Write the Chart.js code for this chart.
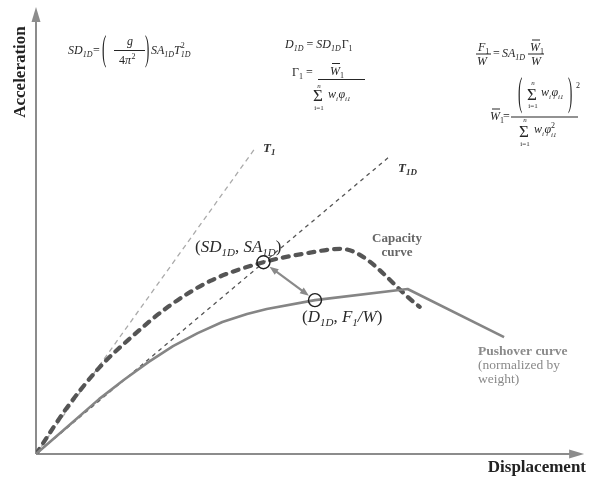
<!DOCTYPE html>
<html><head><meta charset="utf-8">
<script src="https://cdn.jsdelivr.net/npm/chart.js@4"></script>
<style>html,body{margin:0;padding:0;background:#fff;} #wrap{width:592px;height:479px;}</style>
</head><body><div id="wrap"><canvas id="c" width="592" height="479"></canvas></div>
<script>
// ---- data (schematic units: displacement 0-100, acceleration 0-100) ----
const t1Disp = [0, 40.0];
const t1Acc = [0, 68.6];
const t1dDisp = [0, 64.6];
const t1dAcc = [0, 66.8];
const capacityDisp = [0, 5.6, 11.5, 17.4, 24.1, 31.8, 41.5, 49.8, 55.6, 70.0];
const capacityAcc  = [0, 10.3, 19.3, 26.2, 33.0, 38.8, 43.0, 45.1, 46.0, 33.0];
const pushoverDisp = [0, 6.1, 11.5, 16.0, 20.5, 25.0, 29.5, 34.0, 38.5, 42.1, 50.9, 67.8, 85.4];
const pushoverAcc  = [0, 6.5, 12.3, 16.6, 20.6, 24.2, 27.1, 29.6, 31.4, 32.5, 34.5, 37.0, 26.2];
const pointDisp = [41.5, 50.9];   // (SD1D, SA1D) and (D1D, F1/W)
const pointAcc  = [43.0, 34.5];
const axisMax = 100;

const zip = (xs, ys) => xs.map((x, i) => ({x: x, y: ys[i]}));
const SERIF = '"Liberation Serif", "Times New Roman", serif';
const I = s => `italic ${s}px ${SERIF}`;
const N = s => `${s}px ${SERIF}`;
const B = s => `bold ${s}px ${SERIF}`;
const BI = s => `italic bold ${s}px ${SERIF}`;

function tx(ctx, s, x, y, font, align) {
  ctx.font = font; ctx.textAlign = align || 'left'; ctx.fillText(s, x, y);
  return (align === 'center') ? x + ctx.measureText(s).width / 2 : x + ctx.measureText(s).width;
}
// tall thin delimiter drawn as stretched text glyph
function delim(ctx, ch, x, yTop, yBot, size) {
  const sy = (yBot - yTop) / (0.87 * size);
  ctx.save();
  ctx.translate(x, yTop + 0.69 * size * sy);
  ctx.scale(1, sy);
  ctx.font = N(size); ctx.textAlign = 'left';
  ctx.fillText(ch, 0, 0);
  ctx.restore();
}
function hline(ctx, x1, x2, y, w) {
  ctx.beginPath(); ctx.lineWidth = w || 1; ctx.moveTo(x1, y); ctx.lineTo(x2, y); ctx.stroke();
}
function arrowHead(ctx, x, y, ang, len, hw) {
  ctx.beginPath();
  ctx.moveTo(x, y);
  ctx.lineTo(x - len * Math.cos(ang) + hw * Math.sin(ang), y - len * Math.sin(ang) - hw * Math.cos(ang));
  ctx.lineTo(x - len * Math.cos(ang) - hw * Math.sin(ang), y - len * Math.sin(ang) + hw * Math.cos(ang));
  ctx.closePath(); ctx.fill();
}
function sigma(ctx, x, yBase, size, cx, top, bot) {
  tx(ctx, 'Σ', x, yBase, N(size));
  tx(ctx, 'n', cx, top, I(7), 'center');
  tx(ctx, 'i=1', cx, bot, N(7), 'center');
}

const decor = {
  id: 'decor',
  beforeDatasetsDraw(chart) {
    const ctx = chart.ctx, a = chart.chartArea;
    ctx.save();
    ctx.strokeStyle = '#8c8c8c'; ctx.fillStyle = '#8c8c8c'; ctx.lineWidth = 2;
    ctx.beginPath(); ctx.moveTo(a.left, a.bottom); ctx.lineTo(a.left, a.top + 12); ctx.stroke();
    arrowHead(ctx, a.left, a.top - 1, -Math.PI / 2, 15, 4.5);
    ctx.beginPath(); ctx.moveTo(a.left, a.bottom); ctx.lineTo(a.right - 12, a.bottom); ctx.stroke();
    arrowHead(ctx, a.right, a.bottom, 0, 15, 4.5);
    ctx.restore();
  },
  afterDatasetsDraw(chart) {
    const ctx = chart.ctx;
    const xs = chart.scales.x, ys = chart.scales.y;
    const x1 = xs.getPixelForValue(pointDisp[0]), y1 = ys.getPixelForValue(pointAcc[0]);
    const x2 = xs.getPixelForValue(pointDisp[1]), y2 = ys.getPixelForValue(pointAcc[1]);
    const ang = Math.atan2(y2 - y1, x2 - x1), r = 7.5;
    const sx = x1 + r * Math.cos(ang), sy = y1 + r * Math.sin(ang);
    const ex = x2 - r * Math.cos(ang), ey = y2 - r * Math.sin(ang);
    ctx.save();
    ctx.strokeStyle = '#8a8a8a'; ctx.fillStyle = '#8a8a8a'; ctx.lineWidth = 2.2;
    ctx.beginPath(); ctx.moveTo(sx + 6 * Math.cos(ang), sy + 6 * Math.sin(ang));
    ctx.lineTo(ex - 6 * Math.cos(ang), ey - 6 * Math.sin(ang)); ctx.stroke();
    arrowHead(ctx, ex, ey, ang, 9, 3.5);
    arrowHead(ctx, sx, sy, ang + Math.PI, 9, 3.5);
    ctx.restore();
  },
  afterDraw(chart) {
    const ctx = chart.ctx;
    ctx.save();
    ctx.textBaseline = 'alphabetic';
    // axis titles
    ctx.fillStyle = '#222';
    ctx.save(); ctx.translate(21, 72); ctx.rotate(-Math.PI / 2);
    ctx.textBaseline = 'middle'; tx(ctx, 'Acceleration', 0, 0, B(17), 'center'); ctx.restore();
    tx(ctx, 'Displacement', 586, 472, B(17), 'right');

    // period labels
    ctx.fillStyle = '#333';
    let x = tx(ctx, 'T', 263, 152, BI(13)); tx(ctx, '1', x, 155, BI(9));
    x = tx(ctx, 'T', 398, 172, BI(13)); tx(ctx, '1D', x, 175, BI(9));

    // point labels
    ctx.fillStyle = '#2a2a2a';
    x = tx(ctx, '(', 195, 252, N(17)); x = tx(ctx, 'SD', x, 252, I(17)); x = tx(ctx, '1D', x, 256, I(11));
    x = tx(ctx, ', ', x, 252, N(17)); x = tx(ctx, 'SA', x, 252, I(17)); x = tx(ctx, '1D', x, 256, I(11));
    tx(ctx, ')', x, 252, N(17));
    x = tx(ctx, '(', 302, 322, N(17)); x = tx(ctx, 'D', x, 322, I(17)); x = tx(ctx, '1D', x, 326, I(11));
    x = tx(ctx, ', ', x, 322, N(17)); x = tx(ctx, 'F', x, 322, I(17)); x = tx(ctx, '1', x, 326, I(11));
    x = tx(ctx, '/W', x, 322, I(17)); tx(ctx, ')', x, 322, N(17));

    // curve labels
    ctx.fillStyle = '#666';
    tx(ctx, 'Capacity', 397, 242, B(13), 'center');
    tx(ctx, 'curve', 397, 256, B(13), 'center');
    ctx.fillStyle = '#8a8a8a';
    tx(ctx, 'Pushover curve', 478, 355, B(13.5));
    tx(ctx, '(normalized by', 478, 369, N(13.5));
    tx(ctx, 'weight)', 478, 383, N(13.5));

    // ---- formulas ----
    ctx.fillStyle = '#262626'; ctx.strokeStyle = '#262626';
    // SD1D = (g/4pi^2) SA1D T1D^2
    x = tx(ctx, 'SD', 68, 54, I(12)); x = tx(ctx, '1D', x, 57, I(8));
    tx(ctx, '=', 93, 54, N(12));
    delim(ctx, '(', 102, 35, 67, 13);
    tx(ctx, 'g', 130, 45, I(12), 'center');
    hline(ctx, 114, 145, 50.5, 1);
    x = tx(ctx, '4', 119, 64, N(12)); x = tx(ctx, 'π', x, 64, I(12)); tx(ctx, '2', x + 0.5, 59, N(8));
    delim(ctx, ')', 145, 35, 67, 13);
    x = tx(ctx, 'SA', 151, 54, I(12)); x = tx(ctx, '1D', x, 57, I(8));
    x = tx(ctx, 'T', x, 54, I(12)); tx(ctx, '2', x, 48, N(8)); tx(ctx, '1D', x, 57, I(8));

    // D1D = SD1D Gamma1
    x = tx(ctx, 'D', 285, 48, I(12)); x = tx(ctx, '1D', x, 51, I(8));
    x = tx(ctx, ' = ', x, 48, N(12));
    x = tx(ctx, 'SD', x, 48, I(12)); x = tx(ctx, '1D', x, 51, I(8));
    x = tx(ctx, 'Γ', x + 1, 48, N(12)); tx(ctx, '1', x, 51, N(8));
    // Gamma1 = W1bar / sum w phi
    x = tx(ctx, 'Γ', 292, 76, N(12)); x = tx(ctx, '1', x, 79, N(8));
    tx(ctx, '=', 306, 76, N(12));
    hline(ctx, 318, 365, 79.5, 1.2);
    x = tx(ctx, 'W', 330, 75, I(12)); tx(ctx, '1', x, 78, N(8));
    hline(ctx, 332, 340, 63.5, 1);
    sigma(ctx, 313, 101, 17, 319, 88, 110);
    x = tx(ctx, 'w', 328, 98, I(12)); x = tx(ctx, 'i', x, 101, I(7));
    x = tx(ctx, 'φ', x + 0.5, 98, I(12)); tx(ctx, 'i1', x, 101, I(7));

    // F1/W = SA1D W1bar/W
    x = tx(ctx, 'F', 478, 51, I(12)); tx(ctx, '1', x, 54, N(8));
    hline(ctx, 476, 491, 54, 1);
    tx(ctx, 'W', 477, 65, I(12));
    tx(ctx, '=', 493, 57, N(12));
    x = tx(ctx, 'SA', 502, 57, I(12)); tx(ctx, '1D', x, 60, I(8));
    hline(ctx, 528, 544, 54, 1);
    x = tx(ctx, 'W', 530, 51, I(12)); tx(ctx, '1', x, 54, N(8));
    hline(ctx, 532, 540, 40, 1);
    tx(ctx, 'W', 531, 65, I(12));

    // W1bar = (sum w phi)^2 / sum w phi^2
    x = tx(ctx, 'W', 490, 120, I(12)); tx(ctx, '1', x, 123, N(8));
    hline(ctx, 492, 500, 109, 1);
    tx(ctx, '=', 503, 120, N(12));
    hline(ctx, 511, 578, 117, 1.2);
    delim(ctx, '(', 518, 77, 112, 13);
    sigma(ctx, 527, 100, 17, 533, 85, 108);
    x = tx(ctx, 'w', 541, 96, I(12)); x = tx(ctx, 'i', x, 99, I(7));
    x = tx(ctx, 'φ', x + 0.5, 96, I(12)); tx(ctx, 'i1', x, 99, I(7));
    delim(ctx, ')', 568, 77, 112, 13);
    tx(ctx, '2', 576, 88, N(8));
    sigma(ctx, 519, 137, 17, 525, 122, 146);
    x = tx(ctx, 'w', 534, 133, I(12)); x = tx(ctx, 'i', x, 136, I(7));
    x = tx(ctx, 'φ', x + 0.5, 133, I(12)); tx(ctx, '2', x, 128, N(8)); tx(ctx, 'i1', x, 136.5, I(7));
    ctx.restore();
  }
};

new Chart(document.getElementById('c'), {
  type: 'scatter',
  data: {
    datasets: [
      { label: 'Performance points', data: zip(pointDisp, pointAcc), showLine: false,
        pointStyle: 'circle', pointRadius: 6.5, pointBackgroundColor: 'rgba(0,0,0,0)',
        pointBorderColor: '#1e1e1e', pointBorderWidth: 1.4 },
      { label: 'Pushover curve', data: zip(pushoverDisp, pushoverAcc), showLine: true,
        borderColor: '#858585', borderWidth: 2.6, pointRadius: 0, tension: 0, borderJoinStyle: 'round' },
      { label: 'Capacity curve', data: zip(capacityDisp, capacityAcc), showLine: true,
        borderColor: '#555', borderWidth: 4.2, borderDash: [6, 7], borderCapStyle: 'round',
        pointRadius: 0, cubicInterpolationMode: 'monotone' },
      { label: 'T1D', data: zip(t1dDisp, t1dAcc), showLine: true,
        borderColor: '#555', borderWidth: 1.3, borderDash: [4, 4], pointRadius: 0 },
      { label: 'T1', data: zip(t1Disp, t1Acc), showLine: true,
        borderColor: '#aaa', borderWidth: 1.3, borderDash: [5, 4], pointRadius: 0 }
    ]
  },
  options: {
    responsive: false, animation: false, devicePixelRatio: 1,
    layout: { padding: { left: 36, right: 0, top: 8, bottom: 25 } },
    plugins: { legend: { display: false }, tooltip: { enabled: false } },
    scales: {
      x: { type: 'linear', min: 0, max: axisMax, display: false },
      y: { type: 'linear', min: 0, max: axisMax, display: false }
    }
  },
  plugins: [decor]
});
</script>
</body></html>
